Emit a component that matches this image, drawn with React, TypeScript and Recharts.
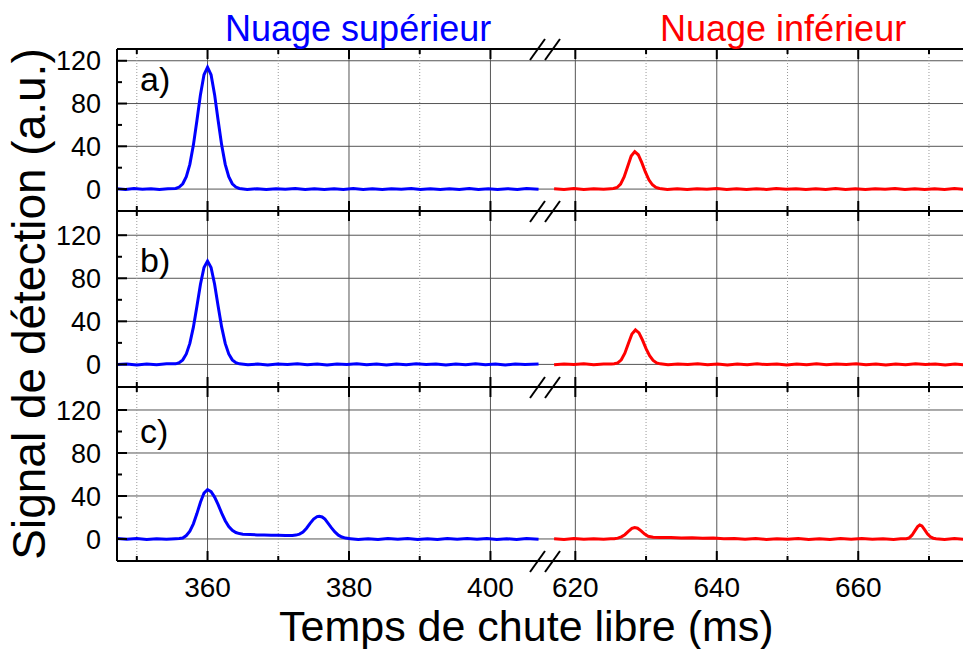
import React from "react";
import { LineChart, Line, XAxis, YAxis, CartesianGrid, ReferenceLine } from "recharts";

const FONT = '"Liberation Sans", Arial, Helvetica, sans-serif';

// broken time axis: left part stops at 408 ms, right part picks up at 616 ms
const BREAK_FROM = 408;
const BREAK_TO = 616;
const SHIFT = BREAK_TO - BREAK_FROM;
const T_MIN = 347.2;
const T_MAX = 675.8;

const majorTimes = [360, 380, 400, 620, 640, 660];
const minorTimes = [350, 370, 390, 630, 650, 670];
const signalTicks = [0, 20, 40, 60, 80, 100, 120];
const signalLabels = [0, 40, 80, 120];

const panelNames = ["a)", "b)", "c)"];
const titles = ["Nuage supérieur", "Nuage inférieur"];

// upper cloud (blue), [time ms, signal a.u.]
const blueA: [number, number][] = [
  [347.2, 0.3], [348.4, -0.4], [349.6, 0.5], [350.8, -0.2], [352.0, 0.4], [353.2, -0.5],
  [354.4, 0.3], [355.5, 0.6], [356.0, 1.9], [356.5, 5.0], [357.0, 11.5], [357.5, 23.1],
  [358.0, 41.1], [358.5, 64.2], [359.0, 88.3], [359.5, 106.9], [360.0, 114.0], [360.5, 106.9],
  [361.0, 88.3], [361.5, 64.2], [362.0, 41.1], [362.5, 23.1], [363.0, 11.5], [363.5, 5.0],
  [364.0, 1.9], [364.5, 0.6], [365.6, -0.3], [367.0, 0.4], [368.3, -0.5], [369.7, 0.3],
  [371.0, -0.2], [372.4, 0.5], [373.8, -0.4], [375.1, 0.2], [376.5, -0.5], [377.9, 0.4],
  [379.2, -0.3], [380.6, 0.5], [382.0, -0.4], [383.3, 0.3], [384.7, -0.5], [386.0, 0.4],
  [387.4, -0.2], [388.8, 0.5], [390.1, -0.4], [391.5, 0.3], [392.9, -0.5], [394.2, 0.4],
  [395.6, -0.3], [397.0, 0.5], [398.3, -0.4], [399.7, 0.2], [401.0, -0.5], [402.4, 0.4],
  [403.8, -0.3], [405.1, 0.5], [406.8, -0.2],
];

const blueB: [number, number][] = [
  [347.2, -0.2], [348.6, 0.4], [350.0, -0.5], [351.4, 0.3], [352.8, -0.3], [354.2, 0.5],
  [355.5, 0.5], [356.0, 1.6], [356.5, 4.2], [357.0, 9.7], [357.5, 19.5], [358.0, 34.6],
  [358.5, 54.0], [359.0, 74.4], [359.5, 90.0], [360.0, 96.0], [360.5, 90.0], [361.0, 74.4],
  [361.5, 54.0], [362.0, 34.6], [362.5, 19.5], [363.0, 9.7], [363.5, 4.2], [364.0, 1.6],
  [364.5, 0.5], [365.7, -0.4], [367.1, 0.3], [368.5, -0.5], [369.9, 0.4], [371.3, -0.2],
  [372.7, 0.5], [374.1, -0.3], [375.5, 0.4], [376.9, -0.5], [378.3, 0.3], [379.7, -0.2],
  [381.1, 0.5], [382.5, -0.4], [383.9, 0.3], [385.3, -0.5], [386.7, 0.4], [388.1, -0.3],
  [389.5, 0.5], [390.9, -0.2], [392.3, 0.4], [393.7, -0.5], [395.1, 0.3], [396.5, -0.4],
  [397.9, 0.5], [399.3, -0.3], [400.7, 0.4], [402.1, -0.5], [403.5, 0.3], [404.9, -0.2],
  [406.8, 0.4],
];

const blueC: [number, number][] = [
  [347.2, 0.4], [348.6, -0.3], [350.0, 0.5], [351.4, -0.4], [352.8, 0.3], [354.2, -0.2],
  [355.5, 0.3], [356.0, 0.5], [356.5, 0.9], [357.0, 3.2], [357.5, 7.2], [358.0, 14.1],
  [358.5, 23.6], [359.0, 34.2], [359.5, 42.7], [360.0, 46.0], [360.5, 44.0], [361.0, 39.0],
  [361.5, 32.0], [362.0, 24.0], [362.5, 17.0], [363.0, 11.5], [363.5, 8.0], [364.0, 6.0],
  [364.5, 5.0], [365.0, 4.5], [366.0, 4.2], [367.0, 3.8], [368.0, 3.6], [369.0, 3.5],
  [370.0, 3.4], [371.0, 3.2], [372.0, 3.3], [372.5, 3.6], [373.0, 4.5], [373.5, 6.5],
  [374.0, 10.0], [374.5, 14.5], [375.0, 18.5], [375.5, 20.8], [375.8, 21.2], [376.2, 20.5],
  [376.6, 18.5], [377.0, 15.0], [377.5, 10.5], [378.0, 6.5], [378.5, 3.5], [379.0, 1.8],
  [379.5, 0.8], [380.2, 0.3], [381.3, -0.4], [382.7, 0.3], [384.1, -0.5], [385.5, 0.4],
  [386.9, -0.2], [388.3, 0.5], [389.7, -0.4], [391.1, 0.3], [392.5, -0.5], [393.9, 0.4],
  [395.3, -0.3], [396.7, 0.5], [398.1, -0.2], [399.5, 0.4], [400.9, -0.5], [402.3, 0.3],
  [403.7, -0.4], [405.1, 0.5], [406.8, -0.2],
];

// lower cloud (red)
const redA: [number, number][] = [
  [617.0, 0.3], [618.4, -0.4], [619.8, 0.5], [621.2, -0.3], [622.6, 0.4], [624.0, -0.2],
  [625.0, 0.3], [625.4, 0.5], [625.9, 1.5], [626.4, 4.7], [626.9, 11.4], [627.4, 21.2],
  [627.9, 30.9], [628.4, 35.0], [628.9, 32.1], [629.4, 24.7], [629.9, 16.0], [630.4, 8.7],
  [630.9, 4.0], [631.4, 1.5], [631.9, 0.5], [633.0, -0.3], [634.4, 0.4], [635.8, -0.5],
  [637.2, 0.3], [638.6, -0.2], [640.0, 0.5], [641.4, -0.4], [642.8, 0.3], [644.2, -0.5],
  [645.6, 0.4], [647.0, -0.3], [648.4, 0.5], [649.8, -0.2], [651.2, 0.4], [652.6, -0.5],
  [654.0, 0.3], [655.4, -0.4], [656.8, 0.5], [658.2, -0.3], [659.6, 0.4], [661.0, -0.5],
  [662.4, 0.3], [663.8, -0.2], [665.2, 0.5], [666.6, -0.4], [668.0, 0.3], [669.4, -0.5],
  [670.8, 0.4], [672.2, -0.3], [673.6, 0.5], [675.0, -0.2], [675.8, 0.3],
];

const redB: [number, number][] = [
  [617.0, -0.3], [618.4, 0.4], [619.8, -0.2], [621.2, 0.5], [622.6, -0.4], [624.0, 0.3],
  [625.1, 0.4], [625.5, 0.6], [626.0, 1.4], [626.5, 4.3], [627.0, 10.4], [627.5, 19.4],
  [628.0, 28.2], [628.5, 32.0], [629.0, 29.3], [629.5, 22.6], [630.0, 14.6], [630.5, 8.0],
  [631.0, 3.7], [631.5, 1.4], [632.0, 0.5], [633.1, -0.4], [634.5, 0.3], [635.9, -0.2],
  [637.3, 0.5], [638.7, -0.4], [640.1, 0.3], [641.5, -0.5], [642.9, 0.4], [644.3, -0.3],
  [645.7, 0.5], [647.1, -0.2], [648.5, 0.4], [649.9, -0.5], [651.3, 0.3], [652.7, -0.4],
  [654.1, 0.5], [655.5, -0.3], [656.9, 0.4], [658.3, -0.2], [659.7, 0.5], [661.1, -0.4],
  [662.5, 0.3], [663.9, -0.5], [665.3, 0.4], [666.7, -0.3], [668.1, 0.5], [669.5, -0.2],
  [670.9, 0.4], [672.3, -0.5], [673.7, 0.3], [675.1, -0.4], [675.8, 0.2],
];

const redC: [number, number][] = [
  [617.0, 0.2], [618.4, -0.4], [619.8, 0.5], [621.2, -0.3], [622.6, 0.3], [624.0, -0.2],
  [625.0, 0.1], [625.5, 0.3], [626.0, 0.8], [626.5, 2.0], [627.0, 4.0], [627.5, 7.0],
  [628.0, 9.8], [628.4, 10.7], [628.8, 10.0], [629.3, 7.5], [629.8, 4.5], [630.3, 2.5],
  [631.0, 1.6], [632.0, 1.3], [633.5, 1.4], [635.0, 0.9], [636.5, 1.2], [638.0, 0.6],
  [639.5, 0.8], [641.0, 0.2], [642.5, 0.4], [644.0, -0.3], [645.5, 0.4], [647.0, -0.4],
  [648.5, 0.3], [650.0, -0.2], [651.5, 0.5], [653.0, -0.4], [654.5, 0.3], [656.0, -0.5],
  [657.5, 0.4], [659.0, -0.2], [660.5, 0.5], [662.0, -0.3], [663.5, 0.3], [665.0, -0.4],
  [666.0, 0.3], [666.8, 0.2], [667.2, 1.0], [667.6, 3.5], [668.0, 7.5], [668.4, 11.5],
  [668.7, 13.0], [669.0, 12.2], [669.4, 8.5], [669.8, 4.5], [670.2, 2.0], [670.6, 0.7],
  [671.0, 0.2], [672.2, -0.4], [673.6, 0.4], [675.0, -0.3], [675.8, 0.3],
];

const toAxis = (t: number) => (t > BREAK_FROM ? t - SHIFT : t);
const fromAxis = (x: number) => (x > BREAK_FROM ? Math.round(x + SHIFT) : Math.round(x));
const xDomain = [T_MIN, toAxis(T_MAX)];
const xTicks = [...majorTimes, ...minorTimes].sort((a, b) => a - b).map(toAxis);

const toRows = (pts: [number, number][]) => pts.map(([t, v]) => ({ x: toAxis(t), y: v }));

const PLOT_LEFT = 117;

const panels = [
  { name: panelNames[0], blue: blueA, red: redA, top: 49, bottom: 211, yDomain: [-20.5, 131], labelY: 91 },
  { name: panelNames[1], blue: blueB, red: redB, top: 211, bottom: 387, yDomain: [-21, 142.5], labelY: 272 },
  { name: panelNames[2], blue: blueC, red: redC, top: 387, bottom: 561, yDomain: [-20.5, 141.4], labelY: 443 },
];

function TimeTick(props: any) {
  const { x, y, payload, side, showLabel } = props;
  const t = fromAxis(payload.value);
  const major = majorTimes.includes(t);
  const len = major ? 10 : 5;
  const dir = side === "bottom" ? -1 : 1;
  return (
    <g>
      <line x1={x} x2={x} y1={y} y2={y + dir * len} stroke="#000" strokeWidth={2} />
      {showLabel && major && (
        <text x={x} y={y + 36} textAnchor="middle" fontSize={28} fontFamily={FONT} fill="#000">
          {t}
        </text>
      )}
    </g>
  );
}

function SignalTick(props: any) {
  const { x, y, payload } = props;
  const v = payload.value;
  const major = signalLabels.includes(v);
  return (
    <g>
      <line x1={x} x2={x + (major ? 10 : 5)} y1={y} y2={y} stroke="#000" strokeWidth={2} />
      {major && (
        <text x={x - 16} y={y} dy="0.36em" textAnchor="end" fontSize={27} fontFamily={FONT} fill="#000">
          {v}
        </text>
      )}
    </g>
  );
}

function Panel({ blue, red, top, bottom, yDomain, showLabels }: any) {
  const padTop = 15;
  const bottomAxisH = showLabels ? 50 : 10;
  const height = padTop + (bottom - top) + bottomAxisH + 5;
  const axisLine = { stroke: "#000", strokeWidth: 2 };
  return (
    <div style={{ position: "absolute", left: 0, top: top - padTop }}>
      <LineChart width={970} height={height} margin={{ top: 5, right: 0, bottom: 5, left: 0 }}>
        <CartesianGrid
          stroke="#555"
          strokeWidth={1}
          verticalValues={majorTimes.map(toAxis)}
          horizontalValues={signalLabels}
        />
        {minorTimes.map((t) => (
          <ReferenceLine key={t} x={toAxis(t)} stroke="#999" strokeDasharray="1 2" />
        ))}
        <XAxis
          type="number"
          dataKey="x"
          domain={xDomain}
          ticks={xTicks}
          interval={0}
          height={bottomAxisH}
          tickSize={0}
          tickMargin={0}
          axisLine={axisLine}
          tick={(p: any) => <TimeTick {...p} side="bottom" showLabel={showLabels} />}
          allowDataOverflow
        />
        <XAxis
          xAxisId="top"
          orientation="top"
          type="number"
          dataKey="x"
          domain={xDomain}
          ticks={xTicks}
          interval={0}
          height={10}
          tickSize={0}
          tickMargin={0}
          axisLine={axisLine}
          tick={(p: any) => <TimeTick {...p} side="top" showLabel={false} />}
          allowDataOverflow
        />
        <YAxis
          type="number"
          domain={yDomain}
          ticks={signalTicks}
          interval={0}
          width={PLOT_LEFT}
          tickSize={0}
          tickMargin={0}
          axisLine={axisLine}
          tick={(p: any) => <SignalTick {...p} />}
          allowDataOverflow
        />
        <Line
          data={toRows(blue)}
          dataKey="y"
          type="linear"
          stroke="#0000ff"
          strokeWidth={3}
          dot={false}
          isAnimationActive={false}
        />
        <Line
          data={toRows(red)}
          dataKey="y"
          type="linear"
          stroke="#ff0000"
          strokeWidth={3}
          dot={false}
          isAnimationActive={false}
        />
      </LineChart>
    </div>
  );
}

// the "//" marks where the time axis is cut
function BreakMark({ y }: { y: number }) {
  return (
    <g stroke="#000" strokeWidth={2}>
      <line x1={530} y1={y + 11} x2={545} y2={y - 10} />
      <line x1={545} y1={y + 11} x2={560} y2={y - 10} />
    </g>
  );
}

export default function App() {
  return (
    <div
      style={{
        position: "absolute",
        left: 0,
        top: 0,
        width: 963,
        height: 649,
        overflow: "hidden",
        background: "#fff",
      }}
    >
      {panels.map((p, i) => (
        <Panel key={p.name} {...p} showLabels={i === panels.length - 1} />
      ))}
      <svg
        width={963}
        height={649}
        style={{ position: "absolute", left: 0, top: 0, pointerEvents: "none" }}
        fontFamily={FONT}
      >
        <text x={225} y={41} fontSize={36} fill="#0000ff">
          {titles[0]}
        </text>
        <text x={660} y={41} fontSize={36} fill="#ff0000">
          {titles[1]}
        </text>
        {panels.map((p) => (
          <text key={p.name} x={140} y={p.labelY} fontSize={34} fill="#000">
            {p.name}
          </text>
        ))}
        {[49, 211, 387, 561].map((y) => (
          <BreakMark key={y} y={y} />
        ))}
        <text x={279} y={641} fontSize={43} fill="#000">
          Temps de chute libre (ms)
        </text>
        <text
          x={45}
          y={304}
          fontSize={46}
          fill="#000"
          textAnchor="middle"
          transform="rotate(-90, 45, 304)"
        >
          Signal de détection (a.u.)
        </text>
      </svg>
    </div>
  );
}
